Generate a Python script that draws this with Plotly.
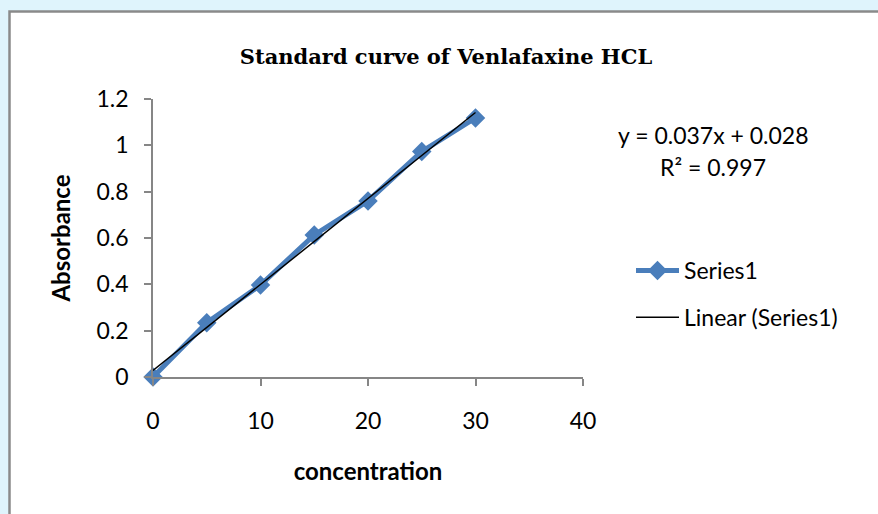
import numpy as np
import plotly.graph_objects as go

# Data
concentration = [0, 5, 10, 15, 20, 25, 30]
absorbance = [0.0, 0.234, 0.397, 0.613, 0.760, 0.973, 1.118]
x_ticks = [0, 10, 20, 30, 40]
y_ticks = [0, 0.2, 0.4, 0.6, 0.8, 1.0, 1.2]
y_tick_labels = ["0", "0.2", "0.4", "0.6", "0.8", "1", "1.2"]

# Linear trendline from the data (least squares)
slope, intercept = np.polyfit(concentration, absorbance, 1)
ss_res = sum((a - (slope * c + intercept)) ** 2 for c, a in zip(concentration, absorbance))
mean_a = np.mean(absorbance)
ss_tot = sum((a - mean_a) ** 2 for a in absorbance)
r2 = 1 - ss_res / ss_tot
trend_x = [min(concentration), max(concentration)]
trend_y = [slope * v + intercept for v in trend_x]

# Layout geometry (pixels)
W, H = 878, 514
L, R, T, B = 153, 295, 99, 137
PW, PH = W - L - R, H - T - B


def px(xp):
    return (xp - L) / PW


def py(yp):
    return (H - B - yp) / PH


SANS = "Lato, Carlito, 'Open Sans', sans-serif"
TICK_FONT = dict(family=SANS, size=23, color="#000000")
AX_TITLE_FONT = dict(family=SANS, size=24, color="#000000")
BLUE = "#4a7ebb"

fig = go.Figure()
fig.add_trace(go.Scatter(
    x=concentration, y=absorbance, name="Series1", mode="lines+markers",
    line=dict(color=BLUE, width=5),
    marker=dict(symbol="diamond", size=15, color=BLUE),
    legendgroup="a", cliponaxis=False,
))
fig.add_trace(go.Scatter(
    x=trend_x, y=trend_y, name="Linear (Series1)", mode="lines",
    line=dict(color="#000000", width=1.5),
    legendgroup="b", cliponaxis=False,
))

fig.update_layout(
    width=W, height=H,
    margin=dict(l=L, r=R, t=T, b=B, autoexpand=False),
    paper_bgcolor="#dff4fc",
    plot_bgcolor="rgba(0,0,0,0)",
    title=dict(
        text="<b>Standard curve of Venlafaxine HCL</b>",
        font=dict(family="'DejaVu Serif', 'Liberation Serif', serif", size=21, color="#000000"),
        xref="container", yref="container",
        x=446 / W, xanchor="center", y=1 - 57 / H, yanchor="middle",
    ),
    xaxis=dict(
        range=[0, 40], tickvals=x_ticks, ticktext=[str(v) for v in x_ticks],
        showgrid=False, zeroline=False, showline=True, linecolor="#868686", linewidth=1.5,
        ticks="outside", ticklen=7, tickcolor="#868686", tickwidth=1.5,
        tickfont=TICK_FONT, ticklabelstandoff=16,
        title=dict(text="<b>concentration</b>", font=AX_TITLE_FONT, standoff=30),
    ),
    yaxis=dict(
        range=[0, 1.2], tickvals=y_ticks, ticktext=y_tick_labels,
        showgrid=False, zeroline=False, showline=True, linecolor="#868686", linewidth=1.5,
        ticks="outside", ticklen=7, tickcolor="#868686", tickwidth=1.5,
        tickfont=TICK_FONT, ticklabelstandoff=11,
        title=dict(text="<b>Absorbance</b>", font=AX_TITLE_FONT, standoff=19),
    ),
    legend=dict(
        x=px(631), y=py(249), xanchor="left", yanchor="top",
        font=dict(family=SANS, size=23, color="#000000"),
        bgcolor="rgba(0,0,0,0)", tracegroupgap=14, itemwidth=43,
    ),
    shapes=[dict(
        type="rect", xref="paper", yref="paper", layer="below",
        x0=px(9.5), x1=px(900), y0=py(540), y1=py(11.5),
        fillcolor="#ffffff", line=dict(color="#8a8a8a", width=2.5),
    )],
    annotations=[
        dict(text="y = %.3fx + %.3f" % (slope, intercept), xref="paper", yref="paper",
             x=px(713), y=py(135), xanchor="center", yanchor="middle", showarrow=False,
             font=dict(family=SANS, size=23, color="#000000")),
        dict(text="R² = %.3f" % r2, xref="paper", yref="paper",
             x=px(713), y=py(167), xanchor="center", yanchor="middle", showarrow=False,
             font=dict(family=SANS, size=23, color="#000000")),
    ],
)

fig.write_html(
    "out.html",
    config={"displayModeBar": False},
    post_script="document.body.style.margin='0';document.body.style.padding='0';",
)
